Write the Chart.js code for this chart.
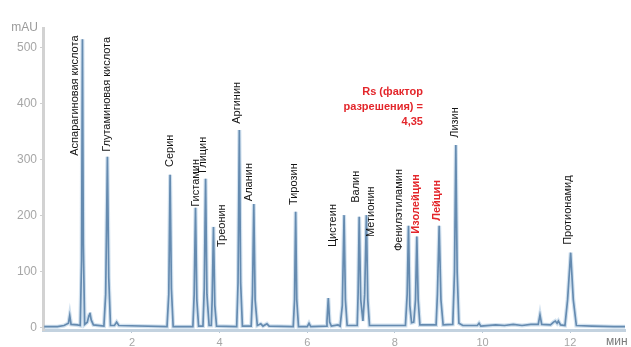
<!DOCTYPE html>
<html lang="ru">
<head>
    <meta charset="UTF-8">
    <title>Хроматограмма аминокислот</title>
    <script src="https://cdn.jsdelivr.net/npm/chart.js"></script>
    <style>
        body { margin: 0; background: #fff; }
        #wrap { width: 631px; height: 347px; }
    </style>
</head>
<body>
    <div id="wrap"><canvas id="chrom"></canvas></div>
<script>
// retention time (min) and detector signal (mAU)
const times = [
    0.00, 0.30, 0.45, 0.55, 0.58, 0.61, 0.75, 0.82, 0.85, 0.87, 0.89, 0.92,
    0.98, 1.02, 1.04, 1.07, 1.12, 1.36, 1.40, 1.44, 1.47, 1.51, 1.60, 1.65, 1.70,
    2.80, 2.84, 2.87, 2.90, 2.94,
    3.39, 3.42, 3.45, 3.48, 3.52, 3.62, 3.65, 3.68, 3.71, 3.76,
    3.81, 3.83, 3.86, 3.89, 3.93,
    4.39, 4.42, 4.45, 4.48, 4.52, 4.72, 4.75, 4.78, 4.81, 4.86,
    4.94, 4.99, 5.08, 5.13,
    5.68, 5.71, 5.735, 5.76, 5.80, 6.00, 6.04, 6.08,
    6.44, 6.45, 6.48, 6.51, 6.55, 6.70, 6.75, 6.80, 6.84, 6.87, 6.91,
    7.14, 7.16, 7.185, 7.22, 7.27, 7.31, 7.35, 7.38, 7.42,
    8.24, 8.28, 8.31, 8.34, 8.38, 8.43, 8.47, 8.50, 8.53, 8.57,
    8.94, 8.97, 9.01, 9.05, 9.10, 9.32, 9.36, 9.39, 9.42, 9.46, 9.55,
    9.88, 9.92, 9.96, 10.3, 10.5, 10.7, 10.9, 11.1,
    11.27, 11.31, 11.35, 11.55, 11.62, 11.66, 11.70, 11.73, 11.78,
    11.88, 11.94, 12.01, 12.07, 12.14, 12.5, 13.0, 13.25
];
const signal = [
    2, 2, 4, 8, 22, 6, 5, 4, 120, 515, 150, 6,
    10, 22, 27, 14, 5, 3, 60, 305, 90, 4, 4, 10, 4,
    2, 60, 273, 70, 2,
    2, 60, 214, 50, 3, 3, 70, 266, 60, 4,
    4, 50, 180, 40, 3,
    2, 80, 353, 80, 3, 3, 60, 221, 50, 4,
    7, 3, 7, 3,
    2, 50, 207, 50, 2, 2, 8, 2,
    3, 12, 53, 10, 3, 5, 3, 40, 201, 50, 4,
    4, 60, 198, 50, 12, 60, 201, 50, 4,
    4, 60, 182, 40, 9, 10, 50, 163, 50, 5,
    5, 60, 182, 50, 5, 6, 100, 326, 100, 8, 4,
    4, 8, 3, 5, 4, 6, 4, 6,
    6, 23, 6, 5, 10, 12, 8, 12, 5,
    4, 50, 134, 50, 4, 3, 2, 2
];

const yTicks = [0, 100, 200, 300, 400, 500];
const xTicks = [2, 4, 6, 8, 10, 12];

// peak names with the point (min, mAU) where each rotated label begins
const peakNames = [
    'Аспарагиновая кислота', 'Глутаминовая кислота', 'Серин', 'Гистамин', 'Глицин',
    'Треонин', 'Аргинин', 'Аланин', 'Тирозин', 'Цистеин', 'Валин', 'Метионин',
    'Фенилэтиламин', 'Изолейцин', 'Лейцин', 'Лизин', 'Протионамид'
];
const labelTimes = [
    0.69, 1.44, 2.86, 3.45, 3.62, 4.05, 4.39, 4.68, 5.70, 6.59, 7.11, 7.45,
    8.09, 8.47, 8.95, 9.36, 11.96
];
const labelLevels = [
    307, 314, 287, 216, 276, 144, 364, 226, 219, 144, 223, 162,
    137, 168, 191, 339, 148
];
const highlighted = ['Изолейцин', 'Лейцин'];

const noteLines = ['Rs (фактор', 'разрешения) =', '4,35'];
const noteTime = 8.64;
const noteLevel = 421;

const points = times.map((t, i) => ({ x: t, y: signal[i] }));
const FONT = '"Liberation Sans", Arial, sans-serif';

const annotate = {
    id: 'annotate',
    afterDatasetsDraw(chart) {
        const { ctx, scales: { x, y } } = chart;
        ctx.save();
        ctx.textBaseline = 'middle';

        // peak labels, reading bottom to top
        peakNames.forEach((name, i) => {
            const red = highlighted.includes(name);
            ctx.save();
            ctx.translate(x.getPixelForValue(labelTimes[i]), y.getPixelForValue(labelLevels[i]));
            ctx.rotate(-Math.PI / 2);
            ctx.font = (red ? 'bold ' : '') + '11px ' + FONT;
            ctx.fillStyle = red ? '#e3262b' : '#141414';
            ctx.textAlign = 'left';
            ctx.fillText(name, 0, 0);
            ctx.restore();
        });

        // resolution note
        ctx.font = 'bold 11px ' + FONT;
        ctx.fillStyle = '#e3262b';
        ctx.textAlign = 'right';
        const nx = x.getPixelForValue(noteTime);
        const ny = y.getPixelForValue(noteLevel);
        noteLines.forEach((line, i) => ctx.fillText(line, nx, ny + i * 15));

        // axis units
        ctx.font = '12px ' + FONT;
        ctx.fillStyle = '#9a9a9a';
        ctx.textAlign = 'right';
        ctx.fillText('mAU', 38, chart.chartArea.top);
        ctx.fillStyle = '#7a7a7a';
        ctx.textAlign = 'left';
        ctx.fillText('мин', 606, 342);
        ctx.restore();
    }
};

new Chart(document.getElementById('chrom'), {
    type: 'line',
    data: {
        datasets: [
            {
                data: points,
                borderColor: 'rgba(140, 180, 215, 0.4)',
                borderWidth: 4,
                pointRadius: 0,
                tension: 0
            },
            {
                data: points,
                borderColor: '#4c7097',
                borderWidth: 1.7,
                pointRadius: 0,
                tension: 0
            }
        ]
    },
    options: {
        responsive: true,
        maintainAspectRatio: false,
        animation: false,
        layout: { padding: { top: 28, right: 6, left: 0, bottom: 0 } },
        plugins: { legend: { display: false }, tooltip: { enabled: false } },
        scales: {
            x: {
                type: 'linear',
                min: -0.03,
                max: 13.25,
                afterBuildTicks: s => { s.ticks = xTicks.map(v => ({ value: v })); },
                afterFit: s => { s.height = 17; },
                border: { display: true, color: '#c3d2df', width: 3 },
                grid: { drawOnChartArea: false, drawTicks: true, tickLength: 3, color: '#b8c6d3' },
                ticks: { color: '#a6a6a6', padding: 3, maxRotation: 0, font: { size: 11, family: FONT } }
            },
            y: {
                min: -4,
                max: 535,
                afterBuildTicks: s => { s.ticks = yTicks.map(v => ({ value: v })); },
                afterFit: s => { s.width = 43; },
                border: { display: true, color: '#d2d2d2', width: 3 },
                grid: { drawOnChartArea: false, drawTicks: true, tickLength: 3, color: '#cfcfcf' },
                ticks: { color: '#a6a6a6', padding: 3, font: { size: 12, family: FONT } }
            }
        }
    },
    plugins: [annotate]
});
</script>
</body>
</html>
